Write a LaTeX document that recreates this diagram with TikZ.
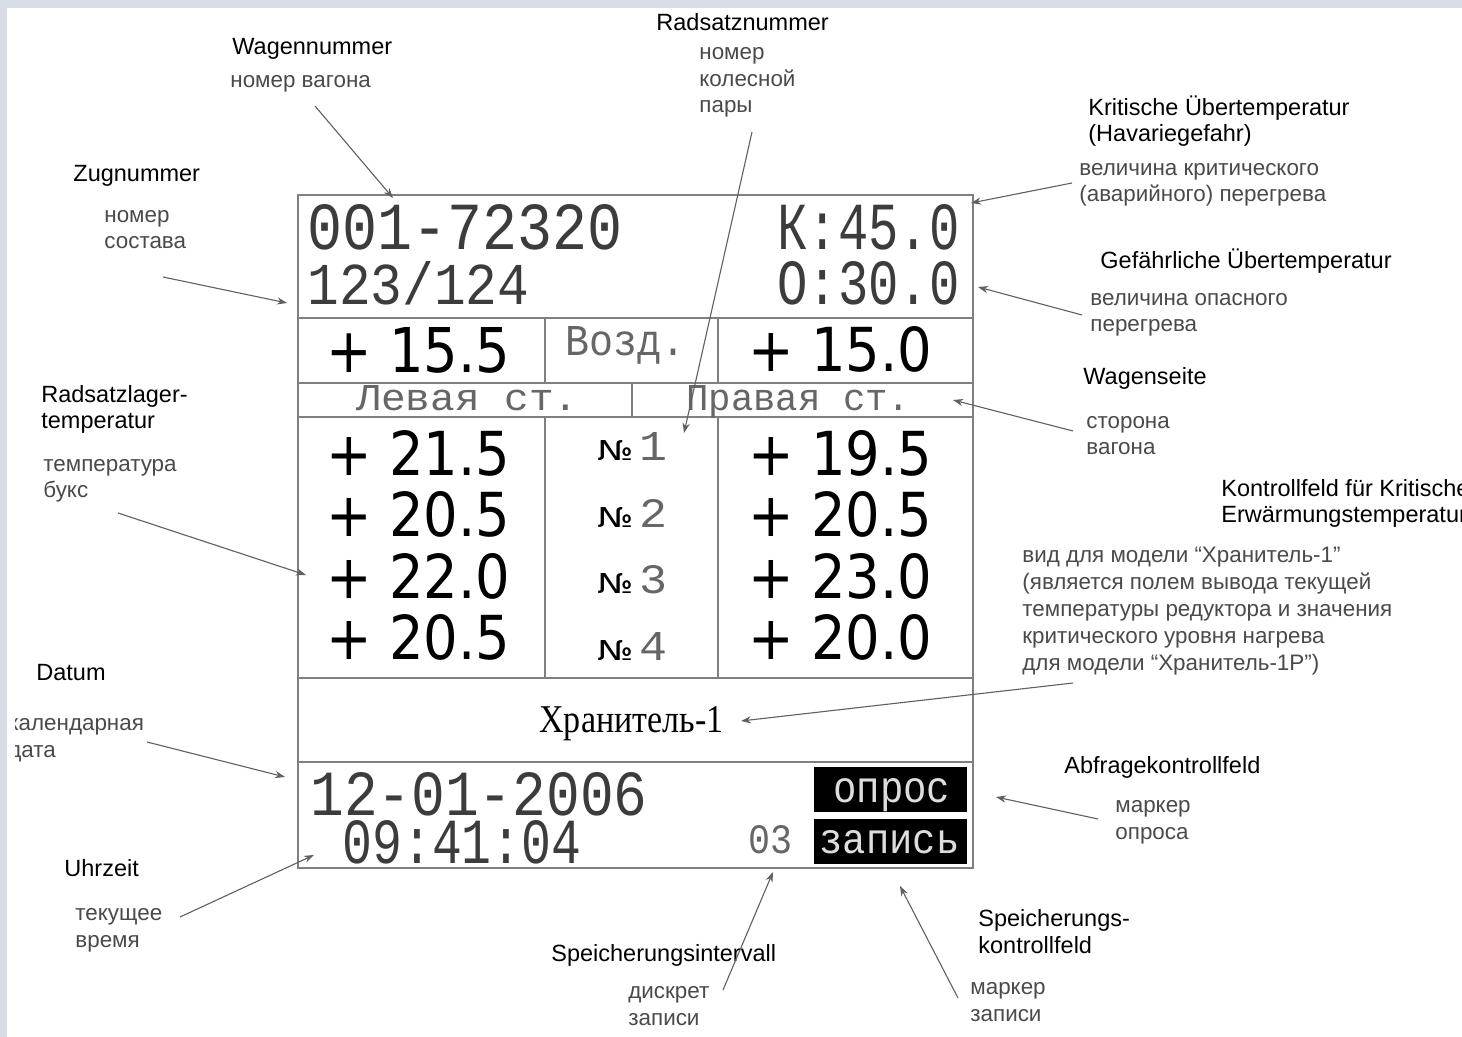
\documentclass[tikz,border=0pt]{standalone}
\usepackage{fontspec}
\setmainfont{Liberation Sans}
\newfontfamily\monof{Liberation Mono}
\newfontfamily\serf{Liberation Serif}
\newfontfamily\dvs{DejaVu Sans}
\usepackage{graphicx}
\usetikzlibrary{arrows.meta}
\definecolor{framecol}{HTML}{D8DDE5}
\definecolor{rucol}{HTML}{4A4A4A}
\definecolor{linecol}{HTML}{808080}
\definecolor{arrcol}{HTML}{606060}
\definecolor{dmcol}{HTML}{3C3C3C}
\definecolor{dmlight}{HTML}{666666}
\definecolor{btntext}{HTML}{DDDDDD}
\newcommand\fitbox[3]{\resizebox{#1pt}{#2pt}{#3}}
\begin{document}
\begin{tikzpicture}[x=0.5pt,y=-0.5pt,
  de/.style={font=\fontsize{11.75}{13.4}\selectfont, anchor=base west, inner sep=0pt, text=black, align=left},
  ru/.style={font=\fontsize{11.2}{13.4}\selectfont, anchor=base west, inner sep=0pt, text=rucol, align=left},
  disp/.style={inner sep=0pt, anchor=base west},
  conn/.style={draw=arrcol, line width=0.55pt, -{Stealth[length=5pt,width=3.6pt]}},
  gridline/.style={draw=linecol, line width=0.8pt},
  btn/.style={fill=black, minimum width=76.5pt, minimum height=22.5pt, inner sep=0pt}]
\useasboundingbox (0,0) rectangle (1462,1037);
\fill[white] (0,0) rectangle (1462,1037);

% ---------- display ----------
\draw[gridline] (298,318) -- (973,318);
\draw[gridline] (298,383) -- (973,383);
\draw[gridline] (298,417) -- (973,417);
\draw[gridline] (298,678) -- (973,678);
\draw[gridline] (298,762) -- (973,762);
\draw[gridline] (545,318) -- (545,383);
\draw[gridline] (718,318) -- (718,383);
\draw[gridline] (632,383) -- (632,417);
\draw[gridline] (545,417) -- (545,678);
\draw[gridline] (718,417) -- (718,678);
\draw[draw=linecol, line width=1pt] (298,195) rectangle (973,868);

\node[disp, text=dmcol] (wagnum) at (307,250) {\monof\fitbox{157.5}{22.5}{001-72320}};
\node[disp, text=dmcol] (zugnum) at (307,305) {\monof\fitbox{111}{21.5}{123/124}};
\node[disp, anchor=base east, text=dmcol] (kval) at (960,250) {\monof\fitbox{91}{22.5}{К:45.0}};
\node[disp, anchor=base east, text=dmcol] (oval) at (960,305) {\monof\fitbox{91}{21.5}{О:30.0}};

\node[disp] (airl) at (326,372) {\dvs\fitbox{92}{22.5}{+ 15.5}};
\node[disp, text=dmlight] (air) at (565,356) {\monof\fitbox{60}{14.5}{Возд.}};
\node[disp] (airr) at (748,372) {\dvs\fitbox{92}{22.5}{+ 15.0}};

\node[disp, text=dmlight] (sidel) at (356,411) {\monof\fitbox{111}{12.5}{Левая ст.}};
\node[disp, text=dmlight] (sider) at (686,411) {\monof\fitbox{112}{12.5}{Правая ст.}};

\node[disp] (l1) at (326,476) {\dvs\fitbox{92}{22.5}{+ 21.5}};
\node[disp] (l2) at (326,537) {\dvs\fitbox{92}{22.5}{+ 20.5}};
\node[disp] (l3) at (326,598) {\dvs\fitbox{92}{22.5}{+ 22.0}};
\node[disp] (l4) at (326,659) {\dvs\fitbox{92}{22.5}{+ 20.5}};
\node[disp] (r1) at (748,476) {\dvs\fitbox{92}{22.5}{+ 19.5}};
\node[disp] (r2) at (748,537) {\dvs\fitbox{92}{22.5}{+ 20.5}};
\node[disp] (r3) at (748,598) {\dvs\fitbox{92}{22.5}{+ 23.0}};
\node[disp] (r4) at (748,659) {\dvs\fitbox{92}{22.5}{+ 20.0}};

\node[disp] (n1) at (597,460) {\dvs\fitbox{18}{10}{№}\hspace{3pt}{\color{dmlight}\monof\fitbox{14}{14}{1}}};
\node[disp] (n2) at (597,527) {\dvs\fitbox{18}{10}{№}\hspace{3pt}{\color{dmlight}\monof\fitbox{14}{14}{2}}};
\node[disp] (n3) at (597,593) {\dvs\fitbox{18}{10}{№}\hspace{3pt}{\color{dmlight}\monof\fitbox{14}{14}{3}}};
\node[disp] (n4) at (597,660) {\dvs\fitbox{18}{10}{№}\hspace{3pt}{\color{dmlight}\monof\fitbox{14}{14}{4}}};

\node[disp] (model) at (539,732) {\serf\fitbox{92}{13}{Хранитель-1}};

\node[disp, text=dmcol] (date) at (310,815) {\monof\fitbox{168.5}{21.5}{12-01-2006}};
\node[disp, text=dmcol] (time) at (342,863) {\monof\fitbox{119.5}{21.5}{09:41:04}};
\node[disp, text=dmlight] (intv) at (748,853) {\monof\fitbox{22}{14}{03}};
\node[btn] (opros) at (890.5,789.5) {};
\node[btn] (zapis) at (890.5,841) {};
\node[disp, text=btntext] (oprost) at (833,802) {\monof\fitbox{58.5}{12}{опрос}};
\node[disp, text=btntext] (zapist) at (819,853) {\monof\fitbox{70}{11.5}{запись}};

% ---------- labels (multi-line nodes are placed at the baseline of their last line) ----------
\node[de] (wagde) at (232,55) {Wagennummer};
\node[ru] (wagru) at (230,88) {номер вагона};
\node[de] (zugde) at (73,182) {Zugnummer};
\node[ru] (zugru) at (104,249) {номер\\состава};
\node[de] (radde) at (656,31) {Radsatznummer};
\node[ru] (radru) at (699,113) {номер\\колесной\\пары};
\node[de] (kritde) at (1088,142) {Kritische Übertemperatur\\(Havariegefahr)};
\node[ru] (kritru) at (1079,202) {величина критического\\(аварийного) перегрева};
\node[de] (gefde) at (1100,269) {Gefährliche Übertemperatur};
\node[ru] (gefru) at (1090,332) {величина опасного\\перегрева};
\node[de] (seitede) at (1083,385) {Wagenseite};
\node[ru] (seiteru) at (1086,455) {сторона\\вагона};
\node[de] (lagerde) at (41,429) {Radsatzlager-\\temperatur};
\node[ru] (lagerru) at (43,498) {температура\\букс};
\node[de] (kontde) at (1221,523) {Kontrollfeld für Kritische\\Erwärmungstemperatur};
\node[ru] (kontru) at (1022,670) {вид для модели “Хранитель-1”\\(является полем вывода текущей\\температуры редуктора и значения\\критического уровня нагрева\\для модели “Хранитель-1Р”)};
\node[de] (datde) at (36,680) {Datum};
\begin{scope}
\clip (15,0) rectangle (400,1037);
\node[ru] (datru) at (8,757) {календарная\\дата};
\end{scope}
\node[de] (uhrde) at (64,876) {Uhrzeit};
\node[ru] (uhrru) at (75,947) {текущее\\время};
\node[de] (speide) at (551,961) {Speicherungsintervall};
\node[ru] (speiru) at (628,1025) {дискрет\\записи};
\node[de] (abfde) at (1064,773) {Abfragekontrollfeld};
\node[ru] (abfru) at (1115,839) {маркер\\опроса};
\node[de] (skde) at (978,953) {Speicherungs-\\kontrollfeld};
\node[ru] (skru) at (970,1021) {маркер\\записи};

% ---------- connectors ----------
\coordinate (wagS) at (315,106);   \coordinate (wagT) at (393,198);
\coordinate (zugS) at (163,277);   \coordinate (zugT) at (287,303);
\coordinate (radS) at (752,132);   \coordinate (radT) at (684,433);
\coordinate (kritS) at (1072,183); \coordinate (kritT) at (971,203);
\coordinate (gefS) at (1082,315);  \coordinate (gefT) at (978,287);
\coordinate (seiteS) at (1073,431);\coordinate (seiteT) at (953,400);
\coordinate (lagerS) at (118,513); \coordinate (lagerT) at (306,575);
\coordinate (kontS) at (1073,683); \coordinate (kontT) at (741,721);
\coordinate (datS) at (147,742);   \coordinate (datT) at (285,777);
\coordinate (uhrS) at (180,917);   \coordinate (uhrT) at (314,855);
\coordinate (speiS) at (723,990);  \coordinate (speiT) at (773,872);
\coordinate (abfS) at (1098,819);  \coordinate (abfT) at (996,797);
\coordinate (skS) at (958,998);    \coordinate (skT) at (900,886);

\draw[conn] (wagS) -- (wagT);
\draw[conn] (zugS) -- (zugT);
\draw[conn] (radS) -- (radT);
\draw[conn] (kritS) -- (kritT);
\draw[conn] (gefS) -- (gefT);
\draw[conn] (seiteS) -- (seiteT);
\draw[conn] (lagerS) -- (lagerT);
\draw[conn] (kontS) -- (kontT);
\draw[conn] (datS) -- (datT);
\draw[conn] (uhrS) -- (uhrT);
\draw[conn] (speiS) -- (speiT);
\draw[conn] (abfS) -- (abfT);
\draw[conn] (skS) -- (skT);

% ---------- frame strips ----------
\fill[framecol] (0,0) rectangle (1462,8);
\fill[framecol] (0,0) rectangle (7,1037);
\end{tikzpicture}
\end{document}
